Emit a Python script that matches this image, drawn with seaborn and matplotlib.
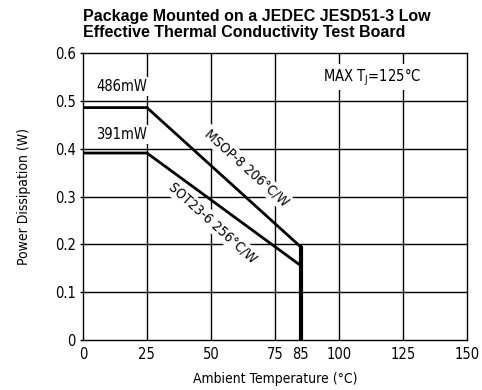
import numpy as np
import pandas as pd
import seaborn as sns
import matplotlib.pyplot as plt

# derating curves
temp = [0, 25, 85, 85]
msop_power = [0.486, 0.486, 0.195, 0.0]
sot_power = [0.391, 0.391, 0.156, 0.0]

x_ticks = [0, 25, 50, 75, 85, 100, 125, 150]
y_ticks = [0, 0.1, 0.2, 0.3, 0.4, 0.5, 0.6]

df = pd.concat([
    pd.DataFrame({"temp": temp, "power": msop_power, "pkg": "MSOP-8"}),
    pd.DataFrame({"temp": temp, "power": sot_power, "pkg": "SOT23-6"}),
])

sns.set_style("white")
plt.rcParams["font.family"] = ["DejaVu Sans"]
plt.rcParams["font.stretch"] = "condensed"
plt.rcParams["text.color"] = "black"
plt.rcParams["axes.labelcolor"] = "black"
plt.rcParams["xtick.color"] = "black"
plt.rcParams["ytick.color"] = "black"

fig = plt.figure(figsize=(4.82, 3.90), dpi=100)
ax = fig.add_axes([0.172, 0.128, 0.797, 0.736])

for x in [25, 50, 75, 100, 125]:
    ax.axvline(x, color="black", lw=1.0, zorder=1)
for y in y_ticks[1:-1]:
    ax.axhline(y, color="black", lw=1.0, zorder=1)

sns.lineplot(data=df, x="temp", y="power", units="pkg", estimator=None,
             sort=False, color="black", lw=2, ax=ax, zorder=5)
ax.plot([85, 85], [0, 0.195], color="black", lw=3, zorder=5)

ax.set_xlim(0, 150)
ax.set_ylim(0, 0.6)
ax.set_xticks(x_ticks)
ax.set_xticklabels([str(t) for t in x_ticks])
ax.set_yticks(y_ticks)
ax.set_yticklabels(["0", "0.1", "0.2", "0.3", "0.4", "0.5", "0.6"])
ax.tick_params(axis="y", labelsize=10.5, length=2, width=1, pad=3, left=True)
ax.tick_params(axis="x", labelsize=10.5, length=0, pad=5)
for s in ax.spines.values():
    s.set_color("black")
    s.set_linewidth(1.0)

ax.set_xlabel("Ambient Temperature (°C)", fontsize=10, labelpad=7)
ax.set_ylabel("Power Dissipation (W)", fontsize=10, labelpad=17)

box = dict(facecolor="white", edgecolor="none", pad=1.5)
ax.text(15.2, 0.530, "486mW", ha="center", va="center", fontsize=10.5, bbox=box, zorder=4)
ax.text(15.2, 0.429, "391mW", ha="center", va="center", fontsize=10.5, bbox=box, zorder=4)
ax.text(113, 0.55, "MAX T$_\\mathregular{J}$=125°C", ha="center", va="center",
        fontsize=10.5, bbox=box, zorder=4)
ax.text(63.8, 0.360, "MSOP-8 206°C/W", ha="center", va="center", rotation=-42,
        fontsize=10, bbox=box, zorder=4, rotation_mode="anchor")
ax.text(50.5, 0.246, "SOT23-6 256°C/W", ha="center", va="center", rotation=-42,
        fontsize=10, bbox=box, zorder=4, rotation_mode="anchor")

fig.text(0.172, 0.978, "Package Mounted on a JEDEC JESD51-3 Low\nEffective Thermal Conductivity Test Board",
         ha="left", va="top", fontsize=11.5, fontweight="bold",
         family=["Liberation Sans", "DejaVu Sans"], stretch="normal", linespacing=1.15)

fig.savefig("out.png", dpi=100)
